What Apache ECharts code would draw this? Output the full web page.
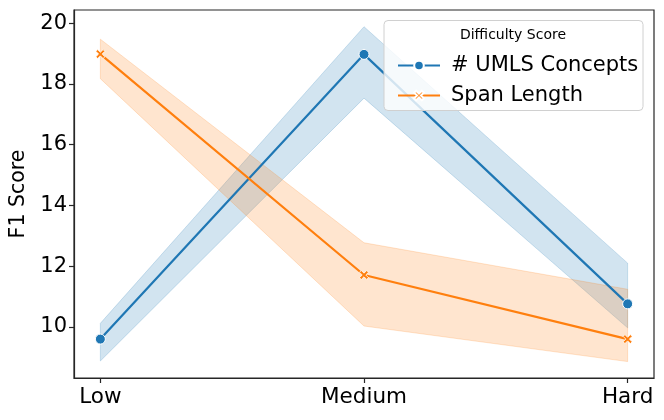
<!DOCTYPE html>
<html>
<head>
<meta charset="utf-8">
<script src="https://cdn.jsdelivr.net/npm/echarts@6/dist/echarts.min.js"></script>
<style>html,body{margin:0;padding:0;background:#fff}#c{width:664px;height:420px}</style>
</head>
<body>
<div id="c"></div>
<script>
var categories = ['Low', 'Medium', 'Hard'];
var umlsMean = [9.60, 18.97, 10.76];
var umlsLow = [8.88, 17.53, 9.97];
var umlsHigh = [10.12, 19.88, 12.10];
var spanMean = [18.98, 11.71, 9.60];
var spanLow = [18.17, 10.03, 8.86];
var spanHigh = [19.47, 12.77, 11.24];
var yTicks = [10, 12, 14, 16, 18, 20];
var seriesNames = ['# UMLS Concepts', 'Span Length'];

var BLUE = '#1f77b4', ORANGE = '#ff7f0e';
var FONT = 'DejaVu Sans';
var xPath = 'path://M0,2 L2,0 L5,3 L8,0 L10,2 L7,5 L10,8 L8,10 L5,7 L2,10 L0,8 L3,5 Z';

function pairs(arr) { return arr.map(function (v, i) { return [i, v]; }); }

function band(lo, hi, color) {
  return {
    type: 'custom',
    silent: true,
    z: 1,
    data: [[0, lo[0]]],
    renderItem: function (params, api) {
      var pts = [];
      for (var i = 0; i < hi.length; i++) pts.push(api.coord([i, hi[i]]));
      for (var j = lo.length - 1; j >= 0; j--) pts.push(api.coord([j, lo[j]]));
      return {
        type: 'polygon',
        shape: { points: pts },
        style: { fill: color, opacity: 0.2, stroke: color, lineWidth: 1 }
      };
    }
  };
}

var chart = echarts.init(document.getElementById('c'), null, { renderer: 'canvas' });
chart.setOption({
  animation: false,
  backgroundColor: '#fff',
  textStyle: { fontFamily: FONT },
  grid: {
    left: 74, right: 10, top: 10, bottom: 42,
    show: true, borderColor: '#262626', borderWidth: 1.2, backgroundColor: 'transparent'
  },
  xAxis: {
    type: 'value', min: -0.1, max: 2.1,
    splitLine: { show: false },
    axisLine: { onZero: false, lineStyle: { color: '#262626', width: 1.2 } },
    axisTick: { show: true, customValues: [0, 1, 2], length: 5, lineStyle: { color: '#262626', width: 1.2 } },
    axisLabel: {
      customValues: [0, 1, 2], margin: 8,
      fontSize: 21.5, color: '#000', fontFamily: FONT,
      formatter: function (v) { return categories[Math.round(v)]; }
    }
  },
  yAxis: {
    type: 'value', min: 8.32, max: 20.43,
    name: 'F1 Score', nameLocation: 'middle', nameGap: 44,
    nameTextStyle: { fontSize: 20.5, color: '#000', fontFamily: FONT },
    splitLine: { show: false },
    axisLine: { show: true, onZero: false, lineStyle: { color: '#262626', width: 1.2 } },
    axisTick: { show: true, customValues: yTicks, length: 5, lineStyle: { color: '#262626', width: 1.2 } },
    axisLabel: {
      customValues: yTicks, margin: 7,
      fontSize: 21, color: '#000', fontFamily: FONT
    }
  },
  legend: {
    data: seriesNames,
    orient: 'vertical',
    left: 392, top: 50,
    itemWidth: 42, itemHeight: 12, itemGap: 9,
    z: 10,
    textStyle: { fontSize: 21, color: '#000', fontFamily: FONT, lineHeight: 21, padding: [0, 0, 0, 6] }
  },
  graphic: [
    {
      type: 'rect', z: 8, silent: true,
      shape: { x: 384, y: 20.5, width: 259, height: 90, r: 4 },
      style: { fill: 'rgba(255,255,255,0.8)', stroke: '#d0d0d0', lineWidth: 1 }
    },
    {
      type: 'text', z: 9, silent: true,
      style: { x: 513, y: 35, text: 'Difficulty Score', align: 'center', verticalAlign: 'middle', fontSize: 14, fontFamily: FONT, fill: '#000' }
    }
  ],
  series: [
    band(umlsLow, umlsHigh, BLUE),
    band(spanLow, spanHigh, ORANGE),
    {
      name: seriesNames[0], type: 'line', z: 3,
      data: pairs(umlsMean),
      color: BLUE,
      lineStyle: { width: 2.2, color: BLUE },
      symbol: 'circle', symbolSize: 10,
      itemStyle: { color: BLUE, borderColor: '#fff', borderWidth: 1 }
    },
    {
      name: seriesNames[1], type: 'line', z: 3,
      data: pairs(spanMean),
      color: ORANGE,
      lineStyle: { width: 2.2, color: ORANGE },
      symbol: xPath, symbolSize: 9,
      itemStyle: { color: ORANGE, borderColor: '#fff', borderWidth: 0.8 }
    }
  ]
});
</script>
</body>
</html>
